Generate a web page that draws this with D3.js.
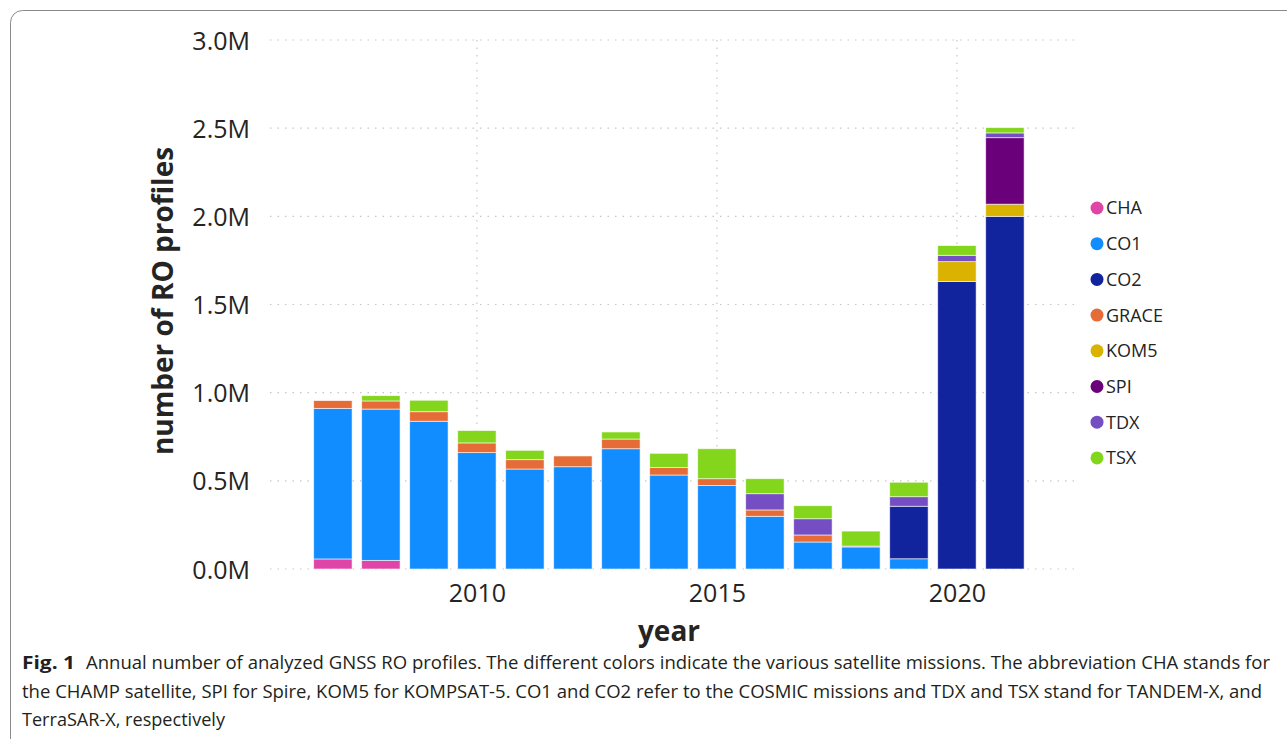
<!DOCTYPE html>
<html>
<head>
<meta charset="utf-8">
<script src="https://cdn.jsdelivr.net/npm/d3@7"></script>
<style>
  body { margin: 0; background: #fff; }
  svg { display: block; }
</style>
</head>
<body>
<svg width="1287" height="739"></svg>
<script>
// profile counts in millions
const years = [2007, 2008, 2009, 2010, 2011, 2012, 2013, 2014, 2015, 2016, 2017, 2018, 2019, 2020, 2021];
const missions = ["CHA", "CO1", "CO2", "GRACE", "KOM5", "SPI", "TDX", "TSX"];
const cha   = [0.057, 0.049, 0, 0, 0, 0, 0, 0, 0, 0, 0, 0, 0, 0, 0];
const co1   = [0.854, 0.858, 0.838, 0.66, 0.567, 0.58, 0.682, 0.533, 0.473, 0.299, 0.153, 0.125, 0.058, 0, 0];
const co2   = [0, 0, 0, 0, 0, 0, 0, 0, 0, 0, 0, 0, 0.298, 1.63, 2.0];
const grace = [0.044, 0.046, 0.054, 0.055, 0.053, 0.061, 0.055, 0.042, 0.039, 0.036, 0.04, 0, 0, 0, 0];
const kom5  = [0, 0, 0, 0, 0, 0, 0, 0, 0, 0, 0, 0, 0, 0.113, 0.069];
const spi   = [0, 0, 0, 0, 0, 0, 0, 0, 0, 0, 0, 0, 0, 0, 0.377];
const tdx   = [0, 0, 0, 0, 0, 0, 0, 0, 0, 0.092, 0.092, 0.005, 0.054, 0.036, 0.027];
const tsx   = [0, 0.03, 0.065, 0.07, 0.053, 0, 0.04, 0.081, 0.17, 0.085, 0.074, 0.085, 0.082, 0.055, 0.03];
const yTicks = [0, 0.5, 1.0, 1.5, 2.0, 2.5, 3.0];
const xTicks = [2010, 2015, 2020];
const colors = ["#e044a7", "#118dff", "#12239e", "#e66c37", "#d9b300", "#6b007b", "#744ec2", "#84d61c"];

const series = { CHA: cha, CO1: co1, CO2: co2, GRACE: grace, KOM5: kom5, SPI: spi, TDX: tdx, TSX: tsx };
const rows = years.map((yr, i) => {
  const r = { year: yr };
  missions.forEach(m => { r[m] = series[m][i] * 1e6; });
  return r;
});

const svg = d3.select("svg");
const font = "'Open Sans', 'Noto Sans', sans-serif";

// frame
svg.append("rect")
  .attr("x", 10.5).attr("y", 10.5)
  .attr("width", 1300).attr("height", 760)
  .attr("rx", 12)
  .attr("fill", "none").attr("stroke", "#8a8a8a").attr("stroke-width", 1);

const x = d3.scaleLinear().domain([2005.69, 2022.46]).range([270, 1075]);
const y = d3.scaleLinear().domain([0, 3e6]).range([569, 40]);
const color = d3.scaleOrdinal().domain(missions).range(colors);
const barW = x(2007.4) - x(2006.6);

// gridlines
svg.append("g").selectAll("line")
  .data(yTicks)
  .join("line")
    .attr("x1", 270).attr("x2", 1075)
    .attr("y1", d => y(d * 1e6)).attr("y2", d => y(d * 1e6))
    .attr("stroke", "#c8c6c4").attr("stroke-width", 1.2)
    .attr("stroke-dasharray", "1.5,6");

svg.append("g").selectAll("line")
  .data(xTicks)
  .join("line")
    .attr("x1", d => x(d)).attr("x2", d => x(d))
    .attr("y1", y(3e6)).attr("y2", y(0))
    .attr("stroke", "#c8c6c4").attr("stroke-width", 1.2)
    .attr("stroke-dasharray", "1.5,6");

// stacked bars
const stacked = d3.stack().keys(missions)(rows);
svg.append("g").selectAll("g")
  .data(stacked)
  .join("g")
    .attr("fill", d => color(d.key))
  .selectAll("rect")
  .data(d => d.filter(s => s[1] - s[0] > 0))
  .join("rect")
    .attr("x", d => x(d.data.year) - barW / 2)
    .attr("width", barW)
    .attr("y", d => y(d[1]))
    .attr("height", d => y(d[0]) - y(d[1]))
    .attr("stroke", "#fff").attr("stroke-width", 0.8).attr("stroke-opacity", 0.7);

// axes (text only, no domain lines)
const yAxis = svg.append("g")
  .attr("transform", "translate(250,0)")
  .call(d3.axisLeft(y).tickValues(yTicks.map(v => v * 1e6)).tickSize(0).tickPadding(0)
    .tickFormat(v => d3.format(".1f")(v / 1e6) + "M"));
yAxis.select(".domain").remove();
yAxis.selectAll("text")
  .attr("font-family", font).attr("font-size", 25).attr("fill", "#252423")
  .attr("dy", "0.36em");

const xAxis = svg.append("g")
  .attr("transform", "translate(0,578)")
  .call(d3.axisBottom(x).tickValues(xTicks).tickSize(0).tickPadding(0).tickFormat(d3.format("d")));
xAxis.select(".domain").remove();
xAxis.selectAll("text")
  .attr("font-family", font).attr("font-size", 25).attr("fill", "#252423")
  .attr("dy", "0.95em");

// axis titles
svg.append("text")
  .attr("transform", "translate(173,301) rotate(-90)")
  .attr("text-anchor", "middle")
  .attr("font-family", font).attr("font-size", 28).attr("font-weight", "bold")
  .attr("fill", "#252423")
  .text("number of RO profiles");

svg.append("text")
  .attr("x", 669).attr("y", 641)
  .attr("text-anchor", "middle")
  .attr("font-family", font).attr("font-size", 28).attr("font-weight", "bold")
  .attr("fill", "#252423")
  .text("year");

// legend
const legend = svg.append("g").selectAll("g")
  .data(missions)
  .join("g")
    .attr("transform", (d, i) => `translate(1097,${208 + i * 35.7})`);
legend.append("circle").attr("r", 6.5).attr("fill", d => color(d));
legend.append("text")
  .attr("x", 9).attr("dy", "0.36em")
  .attr("font-family", font).attr("font-size", 18).attr("fill", "#252423")
  .text(d => d);

// caption
const cap = svg.append("g")
  .attr("font-family", font)
  .attr("font-size", 17.5).attr("fill", "#231f20");
cap.append("text")
  .attr("x", 22).attr("y", 669).attr("font-weight", "bold")
  .attr("textLength", 53).attr("lengthAdjust", "spacingAndGlyphs")
  .text("Fig. 1");
const lines = [
  { x: 86, y: 669, w: 1184, t: "Annual number of analyzed GNSS RO profiles. The different colors indicate the various satellite missions. The abbreviation CHA stands for" },
  { x: 22, y: 698, w: 1240, t: "the CHAMP satellite, SPI for Spire, KOM5 for KOMPSAT-5. CO1 and CO2 refer to the COSMIC missions and TDX and TSX stand for TANDEM-X, and" },
  { x: 22, y: 726, w: 203, t: "TerraSAR-X, respectively" }
];
cap.selectAll("text.line")
  .data(lines)
  .join("text")
    .attr("class", "line")
    .attr("x", d => d.x).attr("y", d => d.y)
    .attr("textLength", d => d.w).attr("lengthAdjust", "spacingAndGlyphs")
    .text(d => d.t);
</script>
</body>
</html>
